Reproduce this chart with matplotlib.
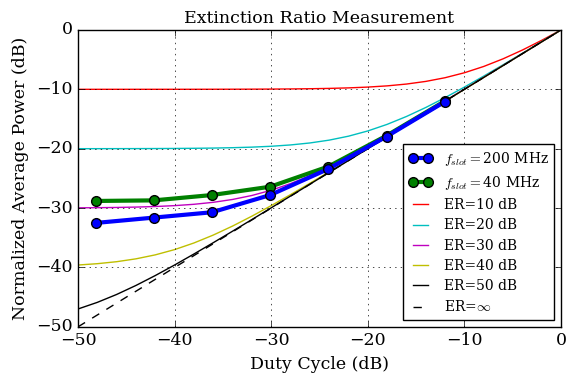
import matplotlib
matplotlib.use('Agg')
import matplotlib.pyplot as plt

# measured points (duty cycle in dB, power in dB)
duty_meas = [-48.16, -42.14, -36.12, -30.10, -24.08, -18.06, -12.04]
p_200mhz = [-32.5, -31.6, -30.7, -27.8, -23.4, -17.95, -12.1]
p_40mhz = [-28.8, -28.7, -27.8, -26.4, -23.0, -17.8, -12.0]

# theory curves sampled every 2 dB of duty cycle
duty = [-50, -48, -46, -44, -42, -40, -38, -36, -34, -32, -30, -28, -26,
        -24, -22, -20, -18, -16, -14, -12, -10, -8, -6, -4, -2, 0]
er10 = [-10.0, -10.0, -9.999, -9.999, -9.998, -9.996, -9.994, -9.990, -9.984,
        -9.975, -9.961, -9.938, -9.903, -9.847, -9.760, -9.626, -9.421,
        -9.115, -8.670, -8.047, -7.212, -6.151, -4.866, -3.389, -1.753, 0.0]
er20 = [-19.996, -19.993, -19.989, -19.983, -19.973, -19.957, -19.932,
        -19.893, -19.830, -19.737, -19.590, -19.367, -19.035, -18.557,
        -17.892, -17.011, -15.902, -14.576, -13.062, -11.399, -9.626,
        -7.775, -5.872, -3.935, -1.974, 0.0]
er30 = [-29.957, -29.932, -29.892, -29.830, -29.734, -29.586, -29.361,
        -29.027, -28.545, -27.878, -26.992, -25.878, -24.548, -23.030,
        -21.365, -19.590, -17.739, -15.834, -13.897, -11.936, -9.961,
        -7.977, -5.987, -3.994, -1.998, 0.0]
er40 = [-39.586, -39.361, -39.027, -38.545, -37.876, -36.990, -35.876,
        -34.545, -33.027, -31.361, -29.586, -27.734, -25.830, -23.892,
        -21.932, -19.957, -17.973, -15.983, -13.989, -11.993, -9.996,
        -7.997, -5.998, -3.999, -1.999, 0.0]
er50 = [-46.990, -45.876, -44.545, -43.027, -41.361, -39.586, -37.734,
        -35.830, -33.892, -31.932, -29.957, -27.973, -25.983, -23.989,
        -21.993, -19.996, -17.997, -15.998, -13.999, -11.999, -10.0,
        -8.0, -6.0, -4.0, -2.0, 0.0]
er_inf = duty

plt.style.use('classic')
plt.rcParams['font.family'] = 'DejaVu Serif'
plt.rcParams['mathtext.fontset'] = 'cm'
plt.rcParams['xtick.labelsize'] = 12.5
plt.rcParams['ytick.labelsize'] = 12.5

fig = plt.figure(figsize=(5.69, 3.74), dpi=100, facecolor='white')
ax = fig.add_axes([0.137, 0.126, 0.849, 0.794])

ax.plot(duty_meas, p_200mhz, 'b-o', lw=3, ms=7, mec='k', mew=1, zorder=4,
        label=r'$f_{slot}=$200 MHz')
ax.plot(duty_meas, p_40mhz, 'g-o', lw=3, ms=7, mec='k', mew=1, zorder=3,
        label=r'$f_{slot}=$40 MHz')
ax.plot(duty, er10, 'r-', label='ER=10 dB')
ax.plot(duty, er20, 'c-', label='ER=20 dB')
ax.plot(duty, er30, 'm-', label='ER=30 dB')
ax.plot(duty, er40, 'y-', label='ER=40 dB')
ax.plot(duty, er50, 'k-', label='ER=50 dB')
ax.plot(duty, er_inf, 'k--', label=r'ER=$\infty$')

ax.set_xlim(-50, 0)
ax.set_ylim(-50, 0)
ax.grid(True)
ax.set_title('Extinction Ratio Measurement', fontsize=12.5)
ax.set_xlabel('Duty Cycle (dB)', fontsize=12.5)
ax.set_ylabel('Normalized Average Power (dB)', fontsize=12.5)
ax.legend(loc='lower right', fontsize=10, borderaxespad=0.5,
          handlelength=1.7, handletextpad=0.8, labelspacing=0.45)

fig.savefig('out.png', dpi=100, facecolor='white')
